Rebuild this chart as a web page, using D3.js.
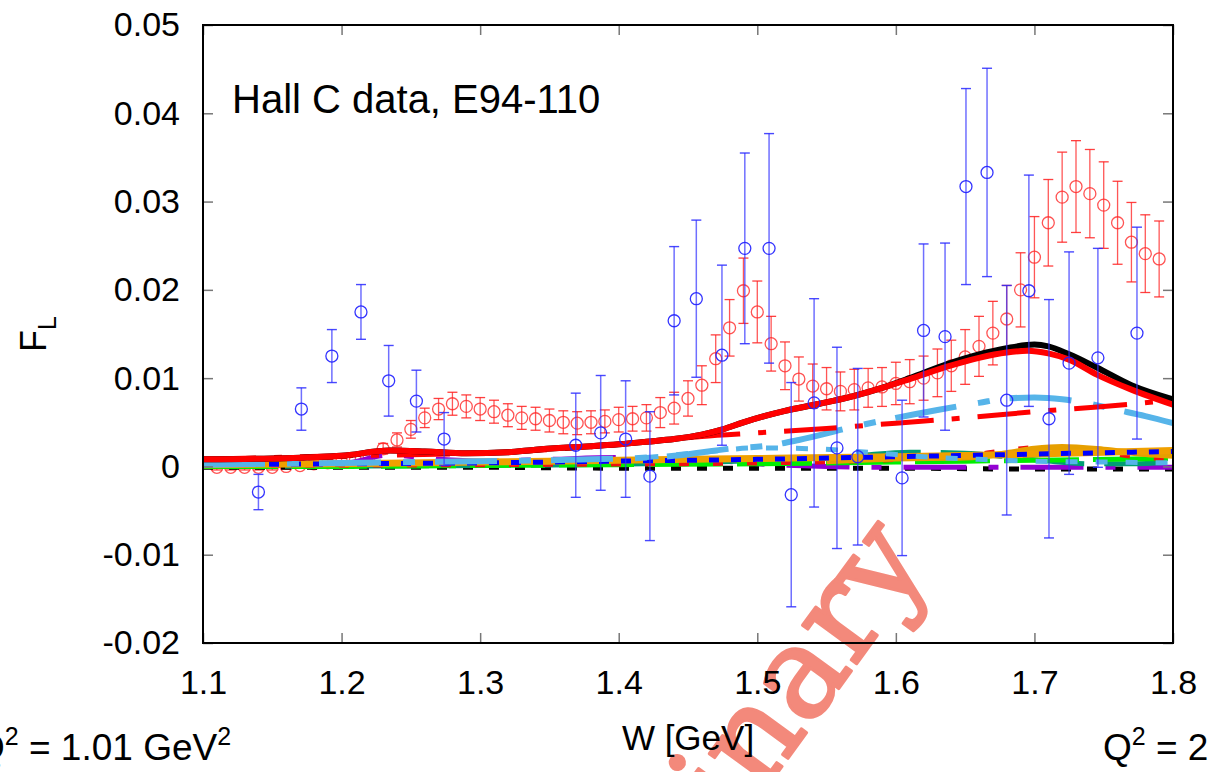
<!DOCTYPE html>
<html>
<head>
<meta charset="utf-8">
<script src="https://cdn.jsdelivr.net/npm/d3@7"></script>
<style>
  html, body { margin: 0; padding: 0; background: #fff; }
  svg { display: block; font-family: "Liberation Sans", Arial, Helvetica, sans-serif; }
</style>
</head>
<body>
<svg id="chart" width="1209" height="772"></svg>
<script>
// ---- axes ----
const xTicks = [1.1, 1.2, 1.3, 1.4, 1.5, 1.6, 1.7, 1.8];
const yTicks = [-0.02, -0.01, 0, 0.01, 0.02, 0.03, 0.04, 0.05];

// ---- Hall C data, E94-110 (blue) ----
const hallW   = [1.140, 1.171, 1.193, 1.214, 1.234, 1.254, 1.274, 1.369, 1.387, 1.405, 1.4225, 1.440, 1.456, 1.4745, 1.491, 1.5085, 1.5245, 1.541, 1.5575, 1.5725, 1.6045, 1.620, 1.6355, 1.6506, 1.6658, 1.680, 1.696, 1.7105, 1.725, 1.7458, 1.774];
const hallF   = [-0.0029, 0.0065, 0.0125, 0.0175, 0.0097, 0.0074, 0.0031, 0.0024, 0.0038, 0.0031, -0.0011, 0.0165, 0.0190, 0.0126, 0.0247, 0.0247, -0.0032, 0.0072, 0.0021, 0.0011, -0.0013, 0.0154, 0.0147, 0.0317, 0.0333, 0.0075, 0.0199, 0.0054, 0.0117, 0.0123, 0.0151];
const hallErr = [0.0020, 0.0024, 0.0030, 0.0031, 0.0040, 0.0035, 0.0030, 0.0059, 0.0065, 0.0066, 0.0073, 0.0084, 0.0089, 0.0102, 0.0108, 0.0130, 0.0127, 0.0118, 0.0114, 0.0100, 0.0088, 0.0098, 0.0106, 0.0111, 0.0118, 0.0130, 0.0131, 0.0135, 0.0126, 0.0124, 0.0120];

// ---- model points (red) ----
const modW = [1.11, 1.12, 1.13, 1.14, 1.15, 1.16, 1.17, 1.18, 1.19, 1.20, 1.21, 1.22, 1.23, 1.24, 1.25, 1.26, 1.27, 1.28, 1.29, 1.30, 1.31, 1.32, 1.33, 1.34, 1.35, 1.36, 1.37, 1.38, 1.39, 1.40, 1.41, 1.42, 1.43, 1.44, 1.45, 1.46, 1.47, 1.48, 1.49, 1.50, 1.51, 1.52, 1.53, 1.54, 1.55, 1.56, 1.57, 1.58, 1.59, 1.60, 1.61, 1.62, 1.63, 1.64, 1.65, 1.66, 1.67, 1.68, 1.69, 1.70, 1.71, 1.72, 1.73, 1.74, 1.75, 1.76, 1.77, 1.78, 1.79];
const modF = [-0.0001, -0.0001, -0.0001, -0.0001, -0.0001, 0.0000, 0.0001, 0.0003, 0.0004, 0.0005, 0.0007, 0.0011, 0.0020, 0.0030, 0.0042, 0.0055, 0.0065, 0.0071, 0.0068, 0.0065, 0.0062, 0.0058, 0.0055, 0.0054, 0.0052, 0.0050, 0.0049, 0.0050, 0.0051, 0.0053, 0.0054, 0.0055, 0.0061, 0.0066, 0.0077, 0.0092, 0.0122, 0.0157, 0.0199, 0.0175, 0.0139, 0.0114, 0.0099, 0.0091, 0.0088, 0.0085, 0.0087, 0.0089, 0.0090, 0.0094, 0.0096, 0.0100, 0.0106, 0.0114, 0.0124, 0.0136, 0.0151, 0.0167, 0.0200, 0.0237, 0.0276, 0.0305, 0.0317, 0.0309, 0.0296, 0.0276, 0.0254, 0.0241, 0.0235];
const modErr = [0.0003, 0.0003, 0.0003, 0.0003, 0.0003, 0.0003, 0.0003, 0.0004, 0.0004, 0.0004, 0.0005, 0.0005, 0.0006, 0.0008, 0.0010, 0.0011, 0.0012, 0.0013, 0.0013, 0.0013, 0.0013, 0.0013, 0.0013, 0.0013, 0.0013, 0.0013, 0.0013, 0.0013, 0.0013, 0.0014, 0.0014, 0.0015, 0.0017, 0.0018, 0.0020, 0.0022, 0.0027, 0.0032, 0.0037, 0.0035, 0.0031, 0.0027, 0.0025, 0.0025, 0.0024, 0.0022, 0.0023, 0.0022, 0.0022, 0.0024, 0.0025, 0.0025, 0.0027, 0.0029, 0.0031, 0.0034, 0.0036, 0.0038, 0.0042, 0.0046, 0.0049, 0.0051, 0.0052, 0.0050, 0.0049, 0.0047, 0.0045, 0.0044, 0.0043];

// ---- theory curves ----
const totalW = [1.10, 1.15, 1.20, 1.235, 1.26, 1.29, 1.32, 1.34, 1.37, 1.40, 1.42, 1.44, 1.46, 1.475, 1.49, 1.505, 1.52, 1.545, 1.57, 1.59, 1.61, 1.637, 1.66, 1.68, 1.695, 1.71, 1.725, 1.745, 1.77, 1.80];
const totalF = [0.0008, 0.0009, 0.0012, 0.0018, 0.0017, 0.0015, 0.0016, 0.0019, 0.0022, 0.0025, 0.0028, 0.0031, 0.0036, 0.0042, 0.0050, 0.0057, 0.0063, 0.0071, 0.0080, 0.0089, 0.0099, 0.0113, 0.0123, 0.0129, 0.0131, 0.0128, 0.0121, 0.0104, 0.0087, 0.0070];
const fullW  = [1.10, 1.15, 1.20, 1.235, 1.26, 1.29, 1.32, 1.34, 1.37, 1.40, 1.42, 1.44, 1.46, 1.475, 1.49, 1.505, 1.52, 1.545, 1.57, 1.59, 1.61, 1.637, 1.66, 1.68, 1.70, 1.71, 1.725, 1.745, 1.77, 1.80];
const fullF  = [0.0008, 0.0009, 0.0012, 0.0018, 0.0017, 0.0015, 0.0016, 0.0019, 0.0022, 0.0025, 0.0028, 0.0031, 0.0036, 0.0042, 0.0050, 0.0057, 0.0063, 0.0071, 0.0080, 0.0089, 0.0100, 0.0116, 0.0127, 0.0134, 0.0138, 0.0136, 0.0127, 0.0112, 0.0092, 0.0076];
const resW   = [1.10, 1.20, 1.30, 1.40, 1.44, 1.46, 1.50, 1.55, 1.60, 1.65, 1.70, 1.75, 1.80];
const resF   = [0.0008, 0.0012, 0.0015, 0.0025, 0.0031, 0.0034, 0.0038, 0.0043, 0.0049, 0.0055, 0.0062, 0.0068, 0.0075];
const skyW   = [1.10, 1.20, 1.30, 1.38, 1.42, 1.44, 1.48, 1.51, 1.53, 1.57, 1.60, 1.63, 1.66, 1.68, 1.70, 1.72, 1.74, 1.76, 1.78, 1.80];
const skyF   = [0.0002, 0.0004, 0.0006, 0.0008, 0.0010, 0.0012, 0.0020, 0.0024, 0.0030, 0.0045, 0.0055, 0.0064, 0.0072, 0.0077, 0.0078, 0.0076, 0.0071, 0.0064, 0.0057, 0.0049];
const sky2W  = [1.42, 1.46, 1.50, 1.54, 1.58, 1.62, 1.66, 1.70, 1.75, 1.80];
const sky2F  = [0.0010, 0.0016, 0.0021, 0.0020, 0.0016, 0.0011, 0.0008, 0.0006, 0.0005, 0.0004];
const bgW    = [1.10, 1.20, 1.30, 1.40, 1.50, 1.60, 1.70, 1.80];
const orangeF = [0.0002, 0.0003, 0.0005, 0.0007, 0.0009, 0.0011, 0.0014, 0.0018];
const blueF   = [0.0002, 0.0003, 0.0004, 0.0006, 0.0008, 0.0011, 0.0014, 0.0017];
const greenF  = [0.0000, 0.0000, 0.0001, 0.0002, 0.0003, 0.0005, 0.0007, 0.0009];
const blackDashF = [-0.0001, -0.0001, -0.0001, -0.0002, -0.0002, -0.0002, -0.0003, -0.0003];
const orange2W = [1.55, 1.60, 1.65, 1.68, 1.70, 1.72, 1.75, 1.78, 1.80];
const orange2F = [0.0006, 0.0009, 0.0010, 0.0015, 0.0020, 0.0022, 0.0019, 0.0014, 0.0012];
const redSmallW = [1.10, 1.30, 1.50, 1.60, 1.65, 1.68, 1.70, 1.72, 1.75, 1.78, 1.80];
const redSmallF = [0.0001, 0.0002, 0.0004, 0.0008, 0.0012, 0.0018, 0.0021, 0.0020, 0.0016, 0.0010, 0.0009];
const tealW  = [1.10, 1.30, 1.45, 1.52, 1.57, 1.61, 1.65, 1.68, 1.71, 1.74, 1.77, 1.80];
const tealF  = [0.0000, 0.0001, 0.0004, 0.0008, 0.0012, 0.0016, 0.0015, 0.0011, 0.0006, 0.0003, 0.0003, 0.0005];
const purpleW = [1.10, 1.20, 1.235, 1.27, 1.30, 1.35, 1.40, 1.44, 1.50, 1.55, 1.60, 1.70, 1.80];
const purpleF = [0.0000, 0.0003, 0.0013, 0.0008, 0.0006, 0.0008, 0.0010, 0.0010, 0.0003, 0.0000, -0.0001, -0.0001, -0.0001];

// ---- layout ----
const plotLeft = 203, plotRight = 1173, plotTop = 25, plotBottom = 643;

const svg = d3.select("#chart");
const x = d3.scaleLinear().domain([1.1, 1.8]).range([plotLeft, plotRight]);
const y = d3.scaleLinear().domain([-0.02, 0.05]).range([plotBottom, plotTop]);

// watermark sits behind the plot
svg.append("text")
  .attr("transform", "translate(932,560) rotate(-54)")
  .attr("text-anchor", "end")
  .attr("font-family", "'DejaVu Serif', 'Liberation Serif', serif")
  .attr("font-size", 128)
  .attr("fill", "#f3897b")
  .attr("stroke", "#f3897b")
  .attr("stroke-width", 3)
  .attr("stroke-linejoin", "round")
  .text("Preliminary");

svg.append("clipPath").attr("id", "plotClip")
  .append("rect").attr("x", plotLeft).attr("y", plotTop)
  .attr("width", plotRight - plotLeft).attr("height", plotBottom - plotTop);

const plot = svg.append("g").attr("clip-path", "url(#plotClip)");

const zip = (ws, fs) => ws.map((w, i) => [w, fs[i]]);
const line = d3.line().x(d => x(d[0])).y(d => y(d[1])).curve(d3.curveMonotoneX);

// model points with error bars (red)
const modPts = modW.map((w, i) => ({ w, f: modF[i], e: modErr[i] }));
const modG = plot.append("g");
modG.selectAll("line.bar").data(modPts).join("line")
  .attr("x1", d => x(d.w)).attr("x2", d => x(d.w))
  .attr("y1", d => y(d.f + d.e)).attr("y2", d => y(d.f - d.e))
  .attr("stroke", "rgba(255,30,30,0.75)").attr("stroke-width", 1.3);
["top", "bot"].forEach(k => {
  modG.selectAll("line.cap" + k).data(modPts).join("line")
    .attr("x1", d => x(d.w) - 5).attr("x2", d => x(d.w) + 5)
    .attr("y1", d => y(k === "top" ? d.f + d.e : d.f - d.e))
    .attr("y2", d => y(k === "top" ? d.f + d.e : d.f - d.e))
    .attr("stroke", "rgba(255,30,30,0.85)").attr("stroke-width", 1.3);
});
modG.selectAll("circle").data(modPts).join("circle")
  .attr("cx", d => x(d.w)).attr("cy", d => y(d.f)).attr("r", 6)
  .attr("fill", "none").attr("stroke", "rgba(255,40,40,0.8)").attr("stroke-width", 1.3);

// theory curves
const curves = [
  { d: zip(bgW, blackDashF), c: "#000000", w: 5, dash: "10,16" },
  { d: zip(purpleW, purpleF), c: "#9400d3", w: 5, dash: "63,22,10,22" },
  { d: zip(tealW, tealF), c: "#009e73", w: 5, dash: "62,20" },
  { d: zip(bgW, greenF), c: "#00ee00", w: 5, dash: "75,14" },
  { d: zip(redSmallW, redSmallF), c: "#ee1111", w: 5, dash: "10,24" },
  { d: zip(orange2W, orange2F), c: "#e69f00", w: 6, dash: null },
  { d: zip(bgW, orangeF), c: "#f0a000", w: 7, dash: null },
  { d: zip(bgW, blueF), c: "#0000ff", w: 5, dash: "10,12" },
  { d: zip(sky2W, sky2F), c: "#56b4e9", w: 5, dash: "12,18" },
  { d: zip(skyW, skyF), c: "#56b4e9", w: 6, dash: "62,22,12,20" },
  { d: zip(resW, resF), c: "#ff0000", w: 5, dash: "53,18,8,18" },
  { d: zip(fullW, fullF), c: "#000000", w: 6, dash: null },
  { d: zip(totalW, totalF), c: "#ff0000", w: 6, dash: null }
];
curves.forEach(cv => {
  plot.append("path").datum(cv.d)
    .attr("d", line)
    .attr("fill", "none")
    .attr("stroke", cv.c)
    .attr("stroke-width", cv.w)
    .attr("stroke-dasharray", cv.dash)
    .attr("stroke-linejoin", "round");
});

// Hall C data (blue)
const hallPts = hallW.map((w, i) => ({ w, f: hallF[i], e: hallErr[i] }));
const hallG = plot.append("g");
hallG.selectAll("line.bar").data(hallPts).join("line")
  .attr("x1", d => x(d.w)).attr("x2", d => x(d.w))
  .attr("y1", d => y(d.f + d.e)).attr("y2", d => y(d.f - d.e))
  .attr("stroke", "rgba(50,50,255,0.7)").attr("stroke-width", 1.5);
["top", "bot"].forEach(k => {
  hallG.selectAll("line.cap" + k).data(hallPts).join("line")
    .attr("x1", d => x(d.w) - 5).attr("x2", d => x(d.w) + 5)
    .attr("y1", d => y(k === "top" ? d.f + d.e : d.f - d.e))
    .attr("y2", d => y(k === "top" ? d.f + d.e : d.f - d.e))
    .attr("stroke", "rgba(40,40,255,0.85)").attr("stroke-width", 1.4);
});
hallG.selectAll("circle").data(hallPts).join("circle")
  .attr("cx", d => x(d.w)).attr("cy", d => y(d.f)).attr("r", 6)
  .attr("fill", "none").attr("stroke", "rgba(30,30,255,0.9)").attr("stroke-width", 1.3);

// axes: inward gray ticks on all four sides; plain hyphen for negatives
const fmtY = d => d === 0 ? "0" : d.toFixed(2);
const fmtX = d => d.toFixed(1);
function styleAxis(g) {
  g.select(".domain").remove();
  g.selectAll(".tick line").attr("stroke", "#777").attr("stroke-width", 1.5);
  g.selectAll(".tick text").attr("fill", "#000").attr("font-size", 34)
    .attr("font-family", "'Liberation Sans', Arial, sans-serif");
}
svg.append("g").attr("transform", `translate(0,${plotBottom})`)
  .call(d3.axisBottom(x).tickValues(xTicks).tickFormat(fmtX).tickSizeInner(-10).tickSizeOuter(0).tickPadding(27))
  .call(styleAxis);
svg.append("g").attr("transform", `translate(0,${plotTop})`)
  .call(d3.axisTop(x).tickValues(xTicks).tickFormat("").tickSizeInner(-10).tickSizeOuter(0))
  .call(styleAxis);
svg.append("g").attr("transform", `translate(${plotLeft},0)`)
  .call(d3.axisLeft(y).tickValues(yTicks).tickFormat(fmtY).tickSizeInner(-10).tickSizeOuter(0).tickPadding(23))
  .call(styleAxis);
svg.append("g").attr("transform", `translate(${plotRight},0)`)
  .call(d3.axisRight(y).tickValues(yTicks).tickFormat("").tickSizeInner(-10).tickSizeOuter(0))
  .call(styleAxis);

// frame
svg.append("rect").attr("x", plotLeft).attr("y", plotTop)
  .attr("width", plotRight - plotLeft).attr("height", plotBottom - plotTop)
  .attr("fill", "none").attr("stroke", "#000").attr("stroke-width", 2);

// labels
svg.append("text").attr("x", 232).attr("y", 113).attr("font-size", 40).text("Hall C data, E94-110");

svg.append("text").attr("x", 688).attr("y", 750).attr("text-anchor", "middle").attr("font-size", 35).text("W [GeV]");

const yLab = svg.append("text").attr("transform", "translate(46,352) rotate(-90)").attr("font-size", 36);
yLab.append("tspan").text("F");
yLab.append("tspan").attr("font-size", 25).attr("dy", 10).text("L");

function qLabel(x0, val) {
  const t = svg.append("text").attr("x", x0).attr("y", 760).attr("font-size", 37);
  t.append("tspan").text("Q");
  t.append("tspan").attr("font-size", 25).attr("dy", -15).text("2");
  t.append("tspan").attr("dy", 15).text(" = " + val + " GeV");
  t.append("tspan").attr("font-size", 25).attr("dy", -15).text("2");
}
qLabel(-24, "1.01");
qLabel(1103, "2.07");
</script>
</body>
</html>
